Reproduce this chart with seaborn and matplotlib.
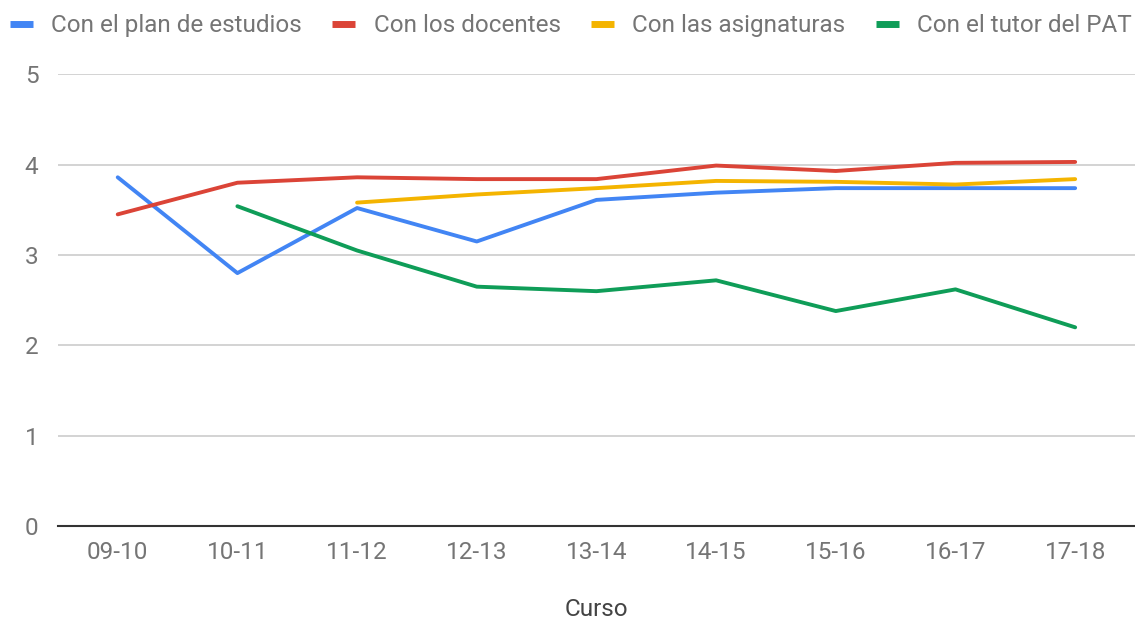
import pandas as pd
import numpy as np
import matplotlib.pyplot as plt
import seaborn as sns

cursos = ['09-10', '10-11', '11-12', '12-13', '13-14', '14-15', '15-16', '16-17', '17-18']
plan_estudios = [3.86, 2.80, 3.52, 3.15, 3.61, 3.69, 3.74, 3.74, 3.74]
docentes = [3.45, 3.80, 3.86, 3.84, 3.84, 3.99, 3.93, 4.02, 4.03]
asignaturas = [np.nan, np.nan, 3.58, 3.67, 3.74, 3.82, 3.81, 3.78, 3.84]
tutor_pat = [np.nan, 3.54, 3.05, 2.65, 2.60, 2.72, 2.38, 2.62, 2.20]

series = {
    'Con el plan de estudios': plan_estudios,
    'Con los docentes': docentes,
    'Con las asignaturas': asignaturas,
    'Con el tutor del PAT': tutor_pat,
}
colors = ['#4285F4', '#DB4437', '#F4B400', '#0F9D58']

rows = []
for name, vals in series.items():
    for i, v in enumerate(vals):
        rows.append({'pos': i, 'valor': v, 'serie': name})
df = pd.DataFrame(rows).dropna()

sns.set_style('white')
plt.rcParams['font.family'] = ['Roboto', 'DejaVu Sans']

fig = plt.figure(figsize=(11.35, 6.19), dpi=100)
ax = fig.add_axes([0.051, 0.150, 0.949, 0.730])

sns.lineplot(data=df, x='pos', y='valor', hue='serie', palette=colors,
             hue_order=list(series.keys()), linewidth=2.8, ax=ax, legend=False)

ax.set_xlim(-0.5, 8.5)
ax.set_ylim(0, 5)
ax.set_yticks(range(6))
ax.set_xticks(range(len(cursos)))
ax.set_xticklabels(cursos)
ax.grid(axis='y', color='#cccccc', linewidth=1.2)
ax.set_axisbelow(True)
for s in ['top', 'right', 'left']:
    ax.spines[s].set_visible(False)
ax.spines['bottom'].set_color('#333333')
ax.spines['bottom'].set_linewidth(1.5)
ax.tick_params(axis='both', length=0, labelsize=17.5, labelcolor='#757575')
ax.tick_params(axis='x', pad=11)
ax.tick_params(axis='y', pad=14)
ax.set_ylabel('')
ax.set_xlabel('Curso', fontsize=17.5, color='#444444', labelpad=24)

handles = [plt.Line2D([0], [0], color=c, linewidth=5, solid_capstyle='butt') for c in colors]
fig.legend(handles, list(series.keys()), loc='upper center', ncol=4,
           bbox_to_anchor=(0.503, 1.012), frameon=False, fontsize=17.5,
           handlelength=0.95, handletextpad=0.75, columnspacing=1.25,
           labelcolor='#757575')

plt.savefig('out.png', dpi=100)
